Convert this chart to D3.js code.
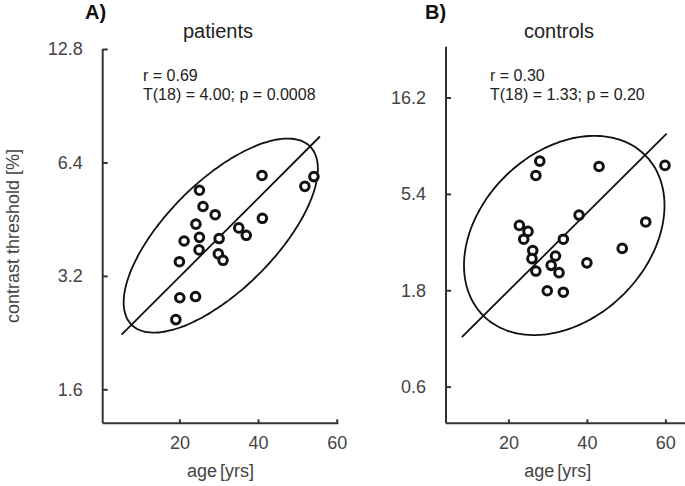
<!DOCTYPE html>
<html>
<head>
<meta charset="utf-8">
<script src="https://cdn.jsdelivr.net/npm/d3@7"></script>
<style>
  html, body { margin: 0; padding: 0; background: #fff; }
  svg { display: block; font-family: "Liberation Sans", Arial, Helvetica, sans-serif; }
</style>
</head>
<body>
<svg id="chart" width="685" height="486"></svg>
<script>
// ---- data ----
const patientsAge = [41.0, 54.2, 51.9, 25.1, 26.0, 29.1, 41.1, 24.2, 35.1, 37.0,
                     25.1, 30.1, 21.2, 25.0, 29.9, 31.1, 20.0, 20.1, 24.1, 19.1];
const patientsThreshold = [5.91, 5.87, 5.53, 5.40, 4.89, 4.65, 4.55, 4.39, 4.29, 4.10,
                           4.05, 4.02, 3.96, 3.75, 3.66, 3.52, 3.49, 2.80, 2.82, 2.45];
const controlsAge = [28.0, 27.0, 43.1, 59.9, 38.0, 55.0, 22.8, 25.0, 23.9, 34.0,
                     26.2, 49.0, 32.0, 26.0, 30.9, 40.0, 27.0, 32.9, 29.9, 34.0];
const controlsThreshold = [7.84, 6.66, 7.38, 7.47, 4.24, 3.92, 3.77, 3.52, 3.22, 3.22,
                           2.83, 2.90, 2.66, 2.58, 2.39, 2.46, 2.24, 2.20, 1.79, 1.76];
const ageTicks = [20, 40, 60];
const patientsTicks = [1.6, 3.2, 6.4, 12.8];
const controlsTicks = [0.6, 1.8, 5.4, 16.2];
const panelLetters = ["A)", "B)"];
const panelTitles = ["patients", "controls"];
const statR = ["r = 0.69", "r = 0.30"];
const statT = ["T(18) = 4.00; p = 0.0008", "T(18) = 1.33; p = 0.20"];
const xLabelParts = ["age", "[yrs]"];
const yLabel = "contrast threshold [%]";

// ---- layout ----
const svg = d3.select("#chart");
const panels = [
  { age: patientsAge, thr: patientsThreshold, yTicks: patientsTicks,
    xDomain: [0.5, 60.4], xRange: [102.7, 338.3],
    yDomain: [1.3, 12.8], yRange: [423.3, 49],
    letterX: 85, titleX: 218, statX: 143 },
  { age: controlsAge, thr: controlsThreshold, yTicks: controlsTicks,
    xDomain: [4.1, 65], xRange: [446, 685],
    yDomain: [0.395, 28.9], yRange: [423.3, 46.7],
    letterX: 425, titleX: 559, statX: 490 }
];
const K = Math.sqrt(5.991);   // 95% ellipse
const LINE_SD = 2.5;

panels.forEach((p, i) => {
  const x = d3.scaleLinear().domain(p.xDomain).range(p.xRange);
  const y = d3.scaleLog().domain(p.yDomain).range(p.yRange);
  const g = svg.append("g");

  // axes
  const xAxis = d3.axisBottom(x).tickValues(ageTicks).tickSize(-4).tickPadding(13).tickFormat(d3.format("d"));
  const yAxis = d3.axisLeft(y).tickValues(p.yTicks).tickSize(-5).tickPadding(20).tickFormat(d => d.toFixed(1));
  const gx = g.append("g").attr("transform", `translate(0,${p.yRange[0]})`).call(xAxis);
  const gy = g.append("g").attr("transform", `translate(${p.xRange[0]},0)`).call(yAxis);
  [gx, gy].forEach(a => {
    a.select(".domain").attr("stroke", "#333").attr("stroke-width", 2);
    a.selectAll(".tick line").attr("stroke", "#333").attr("stroke-width", 2);
    a.selectAll(".tick text").attr("fill", "#444").style("font-size", "18px");
  });
  gx.select(".domain").attr("d", `M${p.xRange[0]},0H${p.xRange[1]}`);
  gy.select(".domain").attr("d", `M0,${p.yRange[0]}V${p.yRange[1]}`);

  // statistics in pixel space
  const px = p.age.map(a => x(a));
  const py = p.thr.map(t => y(t));
  const n = px.length;
  const mx = d3.mean(px), my = d3.mean(py);
  const sxx = d3.sum(px, v => (v - mx) ** 2) / (n - 1);
  const syy = d3.sum(py, v => (v - my) ** 2) / (n - 1);
  const sxy = d3.sum(px.map((v, j) => (v - mx) * (py[j] - my))) / (n - 1);
  const tr = sxx + syy, det = sxx * syy - sxy * sxy;
  const l1 = tr / 2 + Math.sqrt(tr * tr / 4 - det);
  const l2 = tr / 2 - Math.sqrt(tr * tr / 4 - det);
  const ang = Math.atan2(l1 - sxx, sxy);
  const a = K * Math.sqrt(l1), b = K * Math.sqrt(l2);
  const pts = d3.range(0, 360, 2).map(dg => {
    const t = dg * Math.PI / 180;
    const u = a * Math.cos(t), v = b * Math.sin(t);
    return [mx + u * Math.cos(ang) - v * Math.sin(ang), my + u * Math.sin(ang) + v * Math.cos(ang)];
  });
  g.append("path")
    .attr("d", d3.line().curve(d3.curveCardinalClosed)(pts))
    .attr("fill", "none").attr("stroke", "#111").attr("stroke-width", 1.8);

  // fit line (standardized major axis through the centroid)
  const sx = Math.sqrt(sxx), sy = Math.sqrt(syy), sg = Math.sign(sxy);
  g.append("line")
    .attr("x1", mx - LINE_SD * sx).attr("y1", my - sg * LINE_SD * sy)
    .attr("x2", mx + LINE_SD * sx).attr("y2", my + sg * LINE_SD * sy)
    .attr("stroke", "#111").attr("stroke-width", 1.8);

  // points
  g.selectAll("circle.pt").data(p.age.map((d, j) => [d, p.thr[j]]))
    .join("circle").attr("class", "pt")
    .attr("cx", d => x(d[0])).attr("cy", d => y(d[1])).attr("r", 4.3)
    .attr("fill", "#fff").attr("stroke", "#111").attr("stroke-width", 3);

  // texts
  g.append("text").attr("x", p.letterX).attr("y", 19)
    .attr("fill", "#111").style("font-size", "20px").style("font-weight", "bold").text(panelLetters[i]);
  g.append("text").attr("x", p.titleX).attr("y", 38).attr("text-anchor", "middle")
    .attr("fill", "#222").style("font-size", "20px").text(panelTitles[i]);
  g.append("text").attr("x", p.statX).attr("y", 80.5)
    .attr("fill", "#222").style("font-size", "16px").text(statR[i]);
  g.append("text").attr("x", p.statX).attr("y", 100)
    .attr("fill", "#222").style("font-size", "16px").text(statT[i]);
  const xl = g.append("text").attr("x", (p.xRange[0] + Math.min(p.xRange[1], x(61))) / 2).attr("y", 477)
    .attr("text-anchor", "middle").attr("fill", "#444").style("font-size", "18px");
  xl.append("tspan").text(xLabelParts[0]);
  xl.append("tspan").attr("dx", 3).text(xLabelParts[1]);
});

svg.append("text")
  .attr("transform", "translate(19,236) rotate(-90)")
  .attr("text-anchor", "middle").attr("fill", "#444").style("font-size", "18px")
  .text(yLabel);
</script>
</body>
</html>
